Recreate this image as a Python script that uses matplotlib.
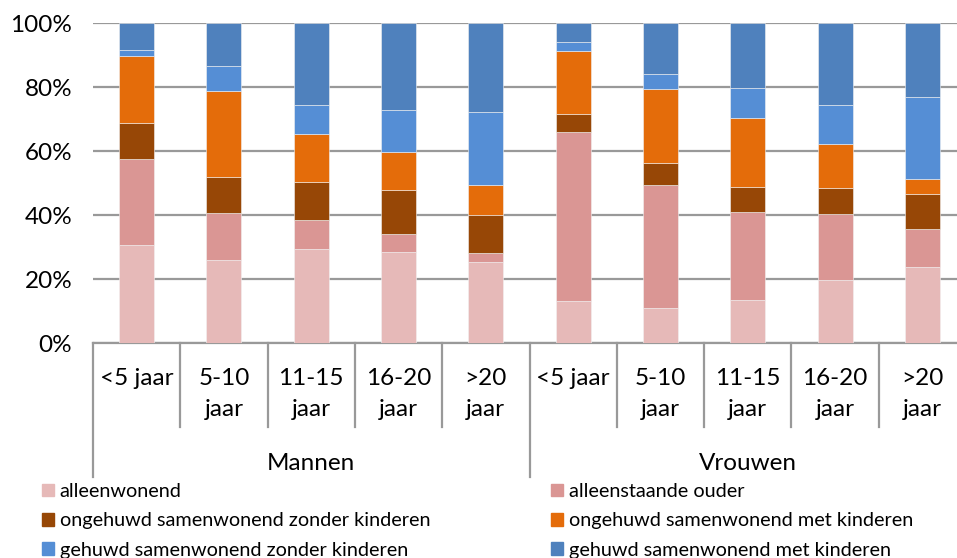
import numpy as np
import matplotlib.pyplot as plt
from matplotlib.patches import Patch
import matplotlib.transforms as mtransforms

plt.rcParams['font.family'] = ['Lato', 'DejaVu Sans']

groups = ['Mannen', 'Vrouwen']
categories = ['<5 jaar', '5-10\njaar', '11-15\njaar', '16-20\njaar', '>20\njaar',
              '<5 jaar', '5-10\njaar', '11-15\njaar', '16-20\njaar', '>20\njaar']
series = ['alleenwonend', 'alleenstaande ouder',
          'ongehuwd samenwonend zonder kinderen', 'ongehuwd samenwonend met kinderen',
          'gehuwd samenwonend zonder kinderen', 'gehuwd samenwonend met kinderen']

alleenwonend = [30.5, 25.8, 29.3, 28.3, 25.2, 13.0, 10.9, 13.4, 19.6, 23.7]
alleenstaande_ouder = [27.0, 14.7, 9.0, 5.8, 2.8, 52.9, 38.6, 27.5, 20.7, 11.8]
ong_zonder = [11.4, 11.5, 12.1, 13.8, 12.0, 5.7, 6.8, 7.8, 8.2, 11.2]
ong_met = [20.7, 26.9, 14.8, 11.8, 9.5, 19.7, 23.2, 21.7, 13.6, 4.6]
geh_zonder = [1.9, 7.6, 9.1, 13.0, 22.6, 2.7, 4.6, 9.2, 12.2, 25.5]
geh_met = [8.5, 13.5, 25.7, 27.3, 27.9, 6.0, 15.9, 20.4, 25.7, 23.2]

colors = ['#E6B9B8', '#DA9694', '#974706', '#E46C0A', '#558ED5', '#4F81BD']
values = [alleenwonend, alleenstaande_ouder, ong_zonder, ong_met, geh_zonder, geh_met]

fig = plt.figure(figsize=(9.57, 5.58), dpi=100)
ax = fig.add_axes([93 / 957, 1 - 343 / 558, 873 / 957, 320 / 558])

x = np.arange(len(categories))
bottom = np.zeros(len(categories))
for vals, col, name in zip(values, colors, series):
    ax.bar(x, vals, 0.4, bottom=bottom, color=col, label=name, zorder=3,
           edgecolor='#f2f2f2', linewidth=0.4)
    bottom += np.array(vals)

ax.set_xlim(-0.5, 9.5)
ax.set_ylim(0, 100)
ax.set_yticks(np.arange(0, 101, 20))
ax.set_yticklabels([f'{v}%' for v in range(0, 101, 20)], fontsize=17.5)
ax.yaxis.grid(True, color='#999999', linewidth=1.6, zorder=0)
ax.tick_params(axis='y', length=0, pad=15)
for s in ['top', 'right', 'bottom', 'left']:
    ax.spines[s].set_visible(False)

ax.set_xticks(x)
ax.set_xticklabels(categories, fontsize=17.5, linespacing=1.6)
ax.tick_params(axis='x', length=0, pad=18)

trans = mtransforms.blended_transform_factory(ax.transData, ax.transAxes)
for b in np.arange(-0.5, 10, 1.0):
    low = -0.42 if b in (-0.5, 4.5) else -0.2625
    ax.plot([b, b], [0, low], color='#999999', linewidth=1.6, transform=trans, clip_on=False)
ax.plot([-0.5, 9.5], [0, 0], color='#999999', linewidth=1.6, transform=trans, clip_on=False)
for i, g in enumerate(groups):
    ax.text(2 + 5 * i, -0.375, g, transform=trans, ha='center', va='center', fontsize=17.5)

order = [0, 2, 4, 1, 3, 5]
handles = [Patch(color=colors[i], label=series[i]) for i in order]
fig.legend(handles=handles, loc='upper left', bbox_to_anchor=(34 / 957, 1 - 475 / 558),
           ncol=2, frameon=False, fontsize=14.3, handlelength=0.6, handleheight=0.6,
           handletextpad=0.3, columnspacing=6.1, labelspacing=0.62, borderaxespad=0)

fig.savefig('out.png', dpi=100)
